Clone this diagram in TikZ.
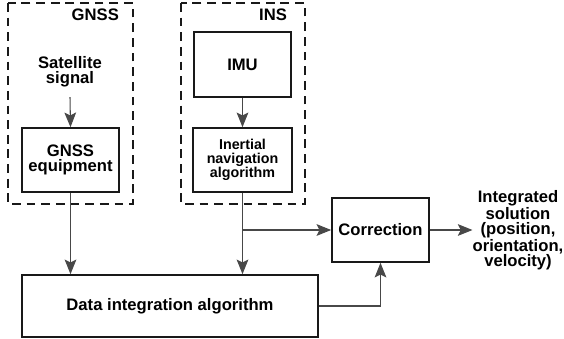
\documentclass[tikz,border=0pt]{standalone}
\usepackage{fontspec}
\setmainfont{Liberation Sans}
\usepackage{tikz}
\usetikzlibrary{arrows.meta, positioning, calc}
\definecolor{linegray}{RGB}{72, 72, 72}
\definecolor{boxblack}{RGB}{25, 25, 25}

\begin{document}
\begin{tikzpicture}[x=0.03cm, y=-0.03cm,
    txt/.style={font=\fontsize{14.2}{13}\selectfont\bfseries, align=center},
    block/.style={draw=boxblack, line width=1.4pt, txt, inner sep=0pt},
    group/.style={draw=boxblack, line width=1.6pt, dash pattern=on 7.5pt off 5pt},
    flow/.style={draw=linegray, line width=0.9pt, -{Stealth[length=12.5pt, width=10pt, inset=2.5pt]}},
    link/.style={draw=linegray, line width=0.9pt}]
  \useasboundingbox (0, 0) rectangle (564, 338);

  % GNSS
  \draw[group] (8, 3) rectangle (133, 204);
  \node[txt, anchor=east] (gnsslabel) at (123, 15) {GNSS};
  \node[txt, inner ysep=8pt] (sat) at (70, 72) {Satellite\\signal};
  \node[block, minimum width=2.91cm, minimum height=1.92cm] (gnsseq) at (70.5, 160) {GNSS\\equipment};
  \draw[flow] (sat.south) -- (gnsseq.north);

  % INS
  \draw[group] (181, 3) rectangle (305, 204);
  \node[txt, anchor=east] (inslabel) at (291, 15) {INS};
  \node[block, minimum width=2.91cm, minimum height=1.95cm] (imu) at (242.5, 64.5) {IMU};
  \node[block, minimum width=2.97cm, minimum height=1.92cm, font=\fontsize{12.2}{11.3}\selectfont\bfseries] (insalg) at (242.5, 160) {Inertial\\navigation\\algorithm};
  \draw[flow] (imu.south) -- (insalg.north);

  % integration and correction
  \node[block, minimum width=8.88cm, minimum height=1.86cm] (dia) at (170, 306) {Data integration algorithm};
  \node[block, minimum width=2.91cm, minimum height=1.92cm] (corr) at (380.5, 230) {Correction};
  \node[txt, inner sep=0pt] (out) at (518, 230) {Integrated\\solution\\(position,\\orientation,\\velocity)};

  \draw[flow] (gnsseq.south) -- (gnsseq.south |- dia.north);
  \draw[flow] (insalg.south) -- (insalg.south |- dia.north);
  \coordinate (branch) at (insalg.south |- corr.west);
  \draw[flow] (branch) -- (corr.west);
  \draw[flow] (dia.east) -| (corr.south);
  \draw[flow] (corr.east) -- (out.west);
\end{tikzpicture}
\end{document}
